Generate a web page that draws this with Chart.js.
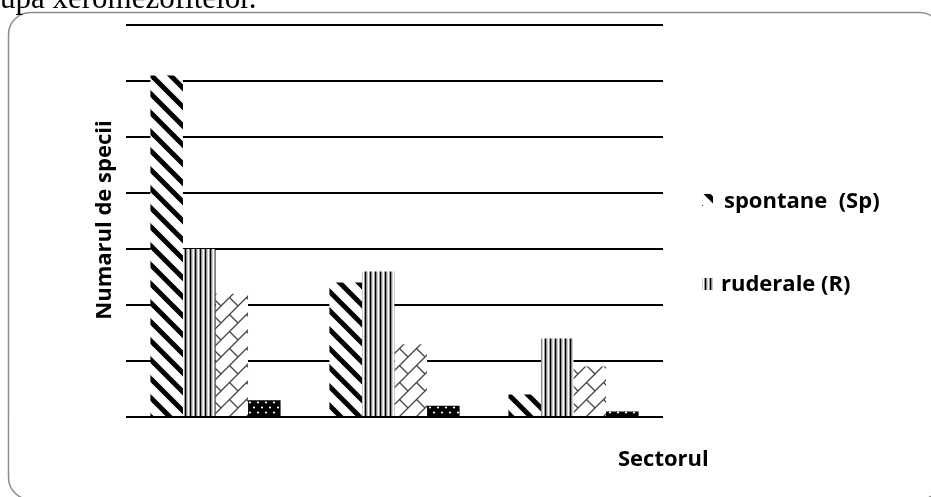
<!DOCTYPE html>
<html>
<head>
<meta charset="utf-8">
<script src="https://cdn.jsdelivr.net/npm/chart.js@4.4.1/dist/chart.umd.min.js"></script>
<style>
  html, body { margin: 0; padding: 0; background: #fff; overflow: hidden; }
  #wrap { position: relative; width: 931px; height: 497px; }
  #myChart { position: absolute; left: 0; top: 0; }
</style>
</head>
<body>
<div id="wrap">
  <canvas id="myChart" width="931" height="497"></canvas>
</div>
<script>
// values (one gridline = 10 species)
let sectors = ["I", "II", "III"]
let spontane = [61, 24, 4]
let ruderale = [30, 26, 14]
let seria3 = [22, 13, 9]
let seria4 = [3, 2, 1]
let seriesLabels = ["spontane  (Sp)", "ruderale (R)", "seria 3", "seria 4"]
let yTitle = "Numarul de specii"
let xTitle = "Sectorul"
let topText = "upa xeromezofitelor."

let canvas = document.getElementById('myChart')
let ctx = canvas.getContext('2d')

function makePattern(w, h, draw) {
    let c = document.createElement('canvas')
    c.width = w
    c.height = h
    let g = c.getContext('2d')
    g.fillStyle = '#fff'
    g.fillRect(0, 0, w, h)
    draw(g, w, h)
    return ctx.createPattern(c, 'repeat')
}

// "\" thick diagonal stripes
let diagPattern = makePattern(19, 19, function(g, s) {
    g.strokeStyle = '#000'
    g.lineWidth = 5
    for (let k = -1; k <= 1; k++) {
        g.beginPath()
        g.moveTo(k * s - 2, -2)
        g.lineTo(k * s + s + 2, s + 2)
        g.stroke()
    }
})

// vertical stripes
let vertPattern = makePattern(5, 4, function(g) {
    g.fillStyle = '#000'
    g.fillRect(0, 0, 1.5, 4)
    g.fillStyle = '#999'
    g.fillRect(1.5, 0, 1, 4)
    g.fillRect(4, 0, 1, 4)
})

// diagonal brick
let brickPattern = makePattern(17, 17, function(g, s) {
    g.strokeStyle = '#444'
    g.lineWidth = 1.3
    g.beginPath()
    g.moveTo(-2, s + 2)
    g.lineTo(s + 2, -2)
    g.moveTo(-2, 2)
    g.lineTo(2, -2)
    g.moveTo(s - 2, s + 2)
    g.lineTo(s + 2, s - 2)
    g.moveTo(s / 2, s / 2)
    g.lineTo(s, s)
    g.stroke()
})

// white dots on black
let dotPattern = makePattern(8, 10, function(g) {
    g.fillStyle = '#000'
    g.fillRect(0, 0, 8, 10)
    g.fillStyle = '#fff'
    g.beginPath()
    g.arc(2, 2.5, 1.1, 0, Math.PI * 2)
    g.arc(6, 7.5, 1.1, 0, Math.PI * 2)
    g.fill()
})

let decorPlugin = {
    id: 'decor',
    beforeDraw(chart) {
        let c = chart.ctx
        c.save()
        c.fillStyle = '#fff'
        c.fillRect(0, 0, chart.width, chart.height)
        // rounded frame
        c.strokeStyle = '#8c8c8c'
        c.lineWidth = 1.5
        c.beginPath()
        c.roundRect(8.5, 12.5, 933, 487, 22)
        c.stroke()
        // clipped text line above the frame
        c.fillStyle = '#000'
        c.font = '31px "Liberation Serif", serif'
        c.textBaseline = 'alphabetic'
        c.fillText(topText, 0, 7.5)
        c.restore()
    },
    afterDraw(chart) {
        let c = chart.ctx
        c.save()
        c.fillStyle = '#000'
        c.font = 'bold 22px "Open Sans", sans-serif'
        c.textBaseline = 'alphabetic'
        // x title
        c.fillText(xTitle, 618, 466)
        c.restore()

        // y title
        c.save()
        c.fillStyle = '#000'
        c.font = 'bold 22px "Open Sans", sans-serif'
        c.textBaseline = 'alphabetic'
        c.translate(111, 220)
        c.rotate(-Math.PI / 2)
        c.textAlign = 'center'
        c.fillText(yTitle, 0, 0)
        c.restore()

        // legend (only the first two series are shown in the original)
        c.save()
        c.font = 'bold 22px "Open Sans", sans-serif'
        c.textBaseline = 'alphabetic'
        c.fillStyle = diagPattern
        c.fillRect(702, 194, 11, 12)
        c.fillStyle = vertPattern
        c.fillRect(702, 278, 11, 12)
        c.fillStyle = '#000'
        c.fillText(chart.data.datasets[0].label, 724, 208)
        c.fillText(chart.data.datasets[1].label, 721, 291)
        c.restore()
    }
}

let chart = new Chart(ctx, {
    type: 'bar',
    data: {
        labels: sectors,
        datasets: [
            { label: seriesLabels[0], data: spontane, backgroundColor: diagPattern },
            { label: seriesLabels[1], data: ruderale, backgroundColor: vertPattern },
            { label: seriesLabels[2], data: seria3, backgroundColor: brickPattern },
            { label: seriesLabels[3], data: seria4, backgroundColor: dotPattern }
        ]
    },
    options: {
        responsive: false,
        animation: false,
        devicePixelRatio: 1,
        layout: { padding: { left: 126, right: 268, top: 25, bottom: 72 } },
        datasets: { bar: { categoryPercentage: 0.727, barPercentage: 1, borderWidth: 0 } },
        plugins: { legend: { display: false }, tooltip: { enabled: false } },
        scales: {
            x: {
                grid: { display: false },
                border: { display: false },
                ticks: { display: false }
            },
            y: {
                min: 0,
                max: 70,
                ticks: { display: false, stepSize: 10 },
                grid: { color: '#000', lineWidth: 2, drawTicks: false },
                border: { display: false }
            }
        }
    },
    plugins: [decorPlugin]
})
</script>
</body>
</html>
